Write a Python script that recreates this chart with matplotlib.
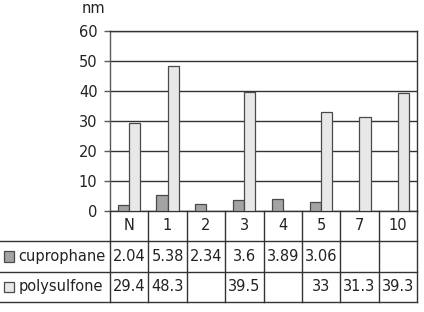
import matplotlib
matplotlib.use("Agg")
import matplotlib.pyplot as plt
import matplotlib.transforms as mtransforms
from matplotlib.lines import Line2D
from matplotlib.patches import Rectangle
import numpy as np

# ── Data ──────────────────────────────────────────────────────────────────────
categories = ["N", "1", "2", "3", "4", "5", "7", "10"]
cuprophane = [2.04, 5.38, 2.34, 3.6, 3.89, 3.06, np.nan, np.nan]
polysulfone = [29.4, 48.3, np.nan, 39.5, np.nan, 33, 31.3, 39.3]
series_names = ["cuprophane", "polysulfone"]
y_ticks = [0, 10, 20, 30, 40, 50, 60]
unit_label = "nm"

COLORS = ["#a3a3a3", "#e8e8e8"]
EDGE = "#4a4a4a"
LINE = "#333333"
FS = 10.5

# ── Layout (pixels on a 424x312 canvas) ───────────────────────────────────────
W, H = 424, 312
ax_l, ax_r, ax_t, ax_b = 110, 417, 30.7, 210.7
row_px = 30.5

fig = plt.figure(figsize=(W / 100, H / 100), dpi=100)
ax = fig.add_axes([ax_l / W, 1 - ax_b / H, (ax_r - ax_l) / W, (ax_b - ax_t) / H])

x = np.arange(len(categories))
bw = 0.29
for i, (vals, col) in enumerate(zip([cuprophane, polysulfone], COLORS)):
    ax.bar(x + (i - 0.5) * bw, vals, bw, color=col, edgecolor=EDGE, linewidth=0.9, zorder=3)

ax.set_xlim(-0.5, len(categories) - 0.5)
ax.set_ylim(y_ticks[0], y_ticks[-1])
ax.set_yticks(y_ticks)
ax.set_xticks([])
ax.yaxis.grid(True, color=LINE, linewidth=1.0, zorder=0)
ax.set_axisbelow(True)
for side in ["top", "right", "bottom", "left"]:
    ax.spines[side].set_color(LINE if side != "left" else "#5a5a5a")
    ax.spines[side].set_linewidth(1.0)
ax.tick_params(axis="y", length=4, width=1, color="#5a5a5a", pad=5,
               labelsize=FS, labelcolor="#222222")

fig.text(82 / W, 1 - 13 / H, unit_label, ha="left", va="baseline",
         fontsize=FS, color="#222222")

# ── Data table under the axis ─────────────────────────────────────────────────
h = row_px / (ax_b - ax_t)
trans = mtransforms.blended_transform_factory(ax.transData, ax.transAxes)
n_rows = 1 + len(series_names)

for k in range(len(categories) + 1):
    ax.add_line(Line2D([k - 0.5, k - 0.5], [0, -n_rows * h], transform=trans,
                       color=LINE, linewidth=1.0, clip_on=False))
x0 = -ax_l / (ax_r - ax_l)
for r in range(1, n_rows + 1):
    ax.add_line(Line2D([x0, 1], [-r * h, -r * h], transform=ax.transAxes,
                       color=LINE, linewidth=1.0, clip_on=False))

for i, cat in enumerate(categories):
    ax.text(i, -0.5 * h, cat, transform=trans, ha="center", va="center",
            fontsize=FS, color="#222222")

sq_w = 10.5 / (ax_r - ax_l)
sq_h = 10.5 / (ax_b - ax_t)
for r, (name, vals, col) in enumerate(zip(series_names, [cuprophane, polysulfone], COLORS), start=1):
    yc = -(r + 0.5) * h
    ax.add_patch(Rectangle((x0 + 3.5 / (ax_r - ax_l), yc - sq_h / 2), sq_w, sq_h,
                           transform=ax.transAxes, facecolor=col, edgecolor=EDGE,
                           linewidth=0.9, clip_on=False))
    ax.text(x0 + 18.5 / (ax_r - ax_l), yc, name, transform=ax.transAxes,
            ha="left", va="center", fontsize=FS, color="#222222")
    for i, v in enumerate(vals):
        if not np.isnan(v):
            ax.text(i, yc, f"{v:g}", transform=trans, ha="center", va="center",
                    fontsize=FS, color="#222222")

fig.savefig("out.png", dpi=100)
